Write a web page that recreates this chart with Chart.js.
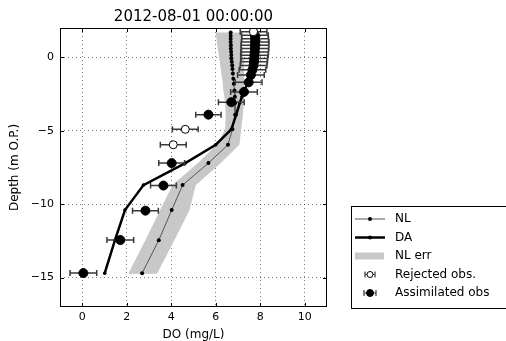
<!DOCTYPE html>
<html>
<head>
<meta charset="utf-8">
<script src="https://cdn.jsdelivr.net/npm/chart.js@4.4.0/dist/chart.umd.min.js"></script>
<style>
  body { margin: 0; background: #fff; }
  canvas { display: block; }
</style>
</head>
<body>
<canvas id="profileChart" width="506" height="341"></canvas>
<script>
// model levels (m O.P.), shared by NL and DA runs
const levels = [1.7, 1.48, 1.26, 1.04, 0.82, 0.6, 0.38, 0.16, -0.06, -0.3, -0.54, -0.8, -1.1,
  -1.45, -1.8, -2.25, -2.68, -3.1, -3.9, -4.9, -5.95, -7.2, -8.7, -10.4, -12.45, -14.7];
const nlDO = [6.67, 6.67, 6.67, 6.67, 6.68, 6.68, 6.69, 6.7, 6.7, 6.72, 6.74, 6.75, 6.77,
  6.79, 6.81, 6.84, 6.86, 6.87, 6.87, 6.75, 6.55, 5.67, 4.51, 4.02, 3.44, 2.69];
const daDO = [7.68, 7.7, 7.7, 7.7, 7.7, 7.7, 7.7, 7.7, 7.7, 7.68, 7.66, 7.62, 7.57,
  7.5, 7.42, 7.28, 7.18, 7.08, 6.92, 6.7, 6.0, 4.63, 2.75, 1.92, 1.47, 1.01];
const nlErrLow = [6.03, 6.04, 6.06, 6.08, 6.1, 6.12, 6.14, 6.16, 6.18, 6.2, 6.22, 6.25, 6.28,
  6.31, 6.34, 6.37, 6.41, 6.44, 6.47, 6.45, 6.07, 5.22, 4.08, 3.52, 2.86, 2.1];
const nlErrHigh = [7.08, 7.1, 7.12, 7.14, 7.16, 7.18, 7.2, 7.21, 7.22, 7.23, 7.24, 7.24, 7.25,
  7.25, 7.26, 7.26, 7.26, 7.24, 7.2, 7.12, 7.04, 6.2, 5.08, 4.8, 4.12, 3.35];

// observations
const assimDepth = [1.5, 1.27, 1.05, 0.82, 0.6, 0.37, 0.15, -0.08, -0.3, -0.55, -0.85, -1.2,
  -1.7, -2.35, -3.05, -3.9, -7.2, -8.73, -10.44, -12.44, -14.69];
const assimDO = [7.76, 7.77, 7.77, 7.76, 7.76, 7.75, 7.74, 7.73, 7.72, 7.7, 7.65, 7.58,
  7.48, 7.27, 6.7, 5.67, 4.02, 3.65, 2.84, 1.71, 0.05];
const assimErr = [0.6, 0.6, 0.62, 0.62, 0.62, 0.62, 0.62, 0.6, 0.6, 0.6, 0.6, 0.6,
  0.6, 0.6, 0.58, 0.57, 0.58, 0.58, 0.58, 0.6, 0.6];
const rejDepth = [1.75, -4.9, -5.95];
const rejDO = [7.7, 4.63, 4.09];
const rejErr = [0.6, 0.58, 0.58];

const xTicks = [0, 2, 4, 6, 8, 10];
const yTicks = [-15, -10, -5, 0];
const chartTitle = '2012-08-01 00:00:00';
const FONT = "'DejaVu Sans', sans-serif";

const toPts = (xs, ys) => xs.map((x, i) => ({ x: x, y: ys[i] }));
// closed outline: down the low side, back up the high side
const bandPts = toPts(nlErrLow, levels).concat(toPts(nlErrHigh, levels).reverse());

const minus = v => (v < 0 ? '\u2212' + Math.abs(v) : String(v));

// horizontal error bars under the obs markers
const errorBars = {
  id: 'errorBars',
  beforeDatasetDraw(chart, args) {
    const ds = chart.data.datasets[args.index];
    if (!ds.errX) return;
    const { ctx, scales: { x, y } } = chart;
    ctx.save();
    ctx.strokeStyle = '#3a3a3a';
    ctx.lineWidth = 1.5;
    ds.data.forEach((p, i) => {
      const x0 = x.getPixelForValue(p.x - ds.errX[i]);
      const x1 = x.getPixelForValue(p.x + ds.errX[i]);
      const py = y.getPixelForValue(p.y);
      ctx.beginPath();
      ctx.moveTo(x0, py); ctx.lineTo(x1, py);
      ctx.moveTo(x0, py - 3); ctx.lineTo(x0, py + 3);
      ctx.moveTo(x1, py - 3); ctx.lineTo(x1, py + 3);
      ctx.stroke();
    });
    ctx.restore();
  }
};

// frame, inward ticks, titles and the legend outside the axes
const decorations = {
  id: 'decorations',
  afterDraw(chart) {
    const { ctx, chartArea: a, scales: { x, y } } = chart;
    ctx.save();
    ctx.strokeStyle = '#000';
    ctx.lineWidth = 1;
    ctx.strokeRect(a.left + 0.5, a.top + 0.5, a.right - a.left - 1, a.bottom - a.top - 1);
    ctx.beginPath();
    xTicks.forEach(v => {
      const px = Math.round(x.getPixelForValue(v)) + 0.5;
      ctx.moveTo(px, a.bottom); ctx.lineTo(px, a.bottom - 4);
      ctx.moveTo(px, a.top); ctx.lineTo(px, a.top + 4);
    });
    yTicks.forEach(v => {
      const py = Math.round(y.getPixelForValue(v)) + 0.5;
      ctx.moveTo(a.left, py); ctx.lineTo(a.left + 4, py);
      ctx.moveTo(a.right, py); ctx.lineTo(a.right - 4, py);
    });
    ctx.stroke();

    ctx.fillStyle = '#000';
    ctx.textAlign = 'center';
    ctx.textBaseline = 'middle';
    ctx.font = '15px ' + FONT;
    ctx.fillText(chartTitle, (a.left + a.right) / 2, 17);
    ctx.font = '12px ' + FONT;
    ctx.fillText('DO (mg/L)', (a.left + a.right) / 2, 335);
    ctx.save();
    ctx.translate(15, (a.top + a.bottom) / 2);
    ctx.rotate(-Math.PI / 2);
    ctx.fillText('Depth (m O.P.)', 0, 0);
    ctx.restore();

    // legend
    const lx = 351, top = 206, bottom = 308;
    ctx.fillStyle = '#fff';
    ctx.fillRect(lx, top, 506 - lx, bottom - top);
    ctx.strokeStyle = '#000';
    ctx.strokeRect(lx + 0.5, top + 0.5, 200, bottom - top);
    const rows = [219, 237.5, 256, 274.5, 293];
    const cx = 370;
    // NL
    ctx.strokeStyle = '#555'; ctx.lineWidth = 1;
    ctx.beginPath(); ctx.moveTo(355, rows[0]); ctx.lineTo(385, rows[0]); ctx.stroke();
    ctx.fillStyle = '#000';
    ctx.beginPath(); ctx.arc(cx, rows[0], 2, 0, Math.PI * 2); ctx.fill();
    // DA
    ctx.strokeStyle = '#000'; ctx.lineWidth = 2.5;
    ctx.beginPath(); ctx.moveTo(355, rows[1]); ctx.lineTo(385, rows[1]); ctx.stroke();
    ctx.beginPath(); ctx.arc(cx, rows[1], 2, 0, Math.PI * 2); ctx.fill();
    // NL err
    ctx.fillStyle = 'rgb(200,200,200)';
    ctx.fillRect(355, rows[2] - 3.5, 29, 7);
    // obs handles
    [[3, 5, rows[3], false], [3.5, 6, rows[4], true]].forEach(([r, half, ry, filled]) => {
      ctx.strokeStyle = '#3a3a3a'; ctx.lineWidth = 1.2;
      ctx.beginPath();
      ctx.moveTo(cx - half, ry); ctx.lineTo(cx + half, ry);
      ctx.moveTo(cx - half, ry - 3); ctx.lineTo(cx - half, ry + 3);
      ctx.moveTo(cx + half, ry - 3); ctx.lineTo(cx + half, ry + 3);
      ctx.stroke();
      ctx.beginPath(); ctx.arc(cx, ry, r, 0, Math.PI * 2);
      ctx.fillStyle = filled ? '#000' : '#fff';
      ctx.fill();
      ctx.strokeStyle = '#000'; ctx.lineWidth = 1;
      ctx.stroke();
    });
    ctx.fillStyle = '#000';
    ctx.textAlign = 'left';
    ctx.font = '12px ' + FONT;
    ['NL', 'DA', 'NL err', 'Rejected obs.', 'Assimilated obs'].forEach((t, i) => {
      ctx.fillText(t, 395, rows[i]);
    });
    ctx.restore();
  }
};

const gridOpts = { color: 'rgba(0,0,0,0.5)', lineWidth: 1, drawTicks: false };
const tickOpts = { color: '#000', font: { family: FONT, size: 11 }, autoSkip: false, maxRotation: 0 };

new Chart(document.getElementById('profileChart'), {
  type: 'scatter',
  data: {
    datasets: [
      {
        label: 'NL err', data: bandPts, showLine: true, fill: 'shape',
        backgroundColor: 'rgb(200,200,200)', borderColor: 'rgb(200,200,200)', borderWidth: 1,
        pointRadius: 0, order: 6
      },
      {
        label: 'NL', data: toPts(nlDO, levels), showLine: true,
        borderColor: '#555', borderWidth: 1,
        pointRadius: 2, pointBackgroundColor: '#000', pointBorderWidth: 0, order: 5
      },
      {
        label: 'DA', data: toPts(daDO, levels), showLine: true,
        borderColor: '#000', borderWidth: 2.5,
        pointRadius: 1.8, pointBackgroundColor: '#000', pointBorderWidth: 0, order: 4
      },
      {
        label: 'Assimilated obs', data: toPts(assimDO, assimDepth), errX: assimErr,
        pointRadius: 4.5, pointBackgroundColor: '#000', pointBorderColor: '#000',
        pointBorderWidth: 1, order: 3
      },
      {
        label: 'Rejected obs.', data: toPts(rejDO, rejDepth), errX: rejErr,
        pointRadius: 4, pointBackgroundColor: '#fff', pointBorderColor: '#000',
        pointBorderWidth: 1, order: 2
      }
    ]
  },
  options: {
    responsive: false,
    animation: false,
    layout: { padding: { top: 28, right: 179, bottom: 0, left: 0 } },
    plugins: { legend: { display: false }, tooltip: { enabled: false }, title: { display: false } },
    scales: {
      x: {
        type: 'linear', min: -1, max: 11,
        afterBuildTicks: s => { s.ticks = xTicks.map(v => ({ value: v })); },
        afterFit: s => { s.height = 34; },
        grid: gridOpts,
        border: { display: false, dash: [1, 3] },
        ticks: Object.assign({ padding: 4, callback: v => minus(v) }, tickOpts)
      },
      y: {
        type: 'linear', min: -17, max: 2,
        afterBuildTicks: s => { s.ticks = yTicks.map(v => ({ value: v })); },
        afterFit: s => { s.width = 60; },
        grid: gridOpts,
        border: { display: false, dash: [1, 3] },
        ticks: Object.assign({ padding: 6, callback: v => minus(v) }, tickOpts)
      }
    }
  },
  plugins: [errorBars, decorations]
});
</script>
</body>
</html>
